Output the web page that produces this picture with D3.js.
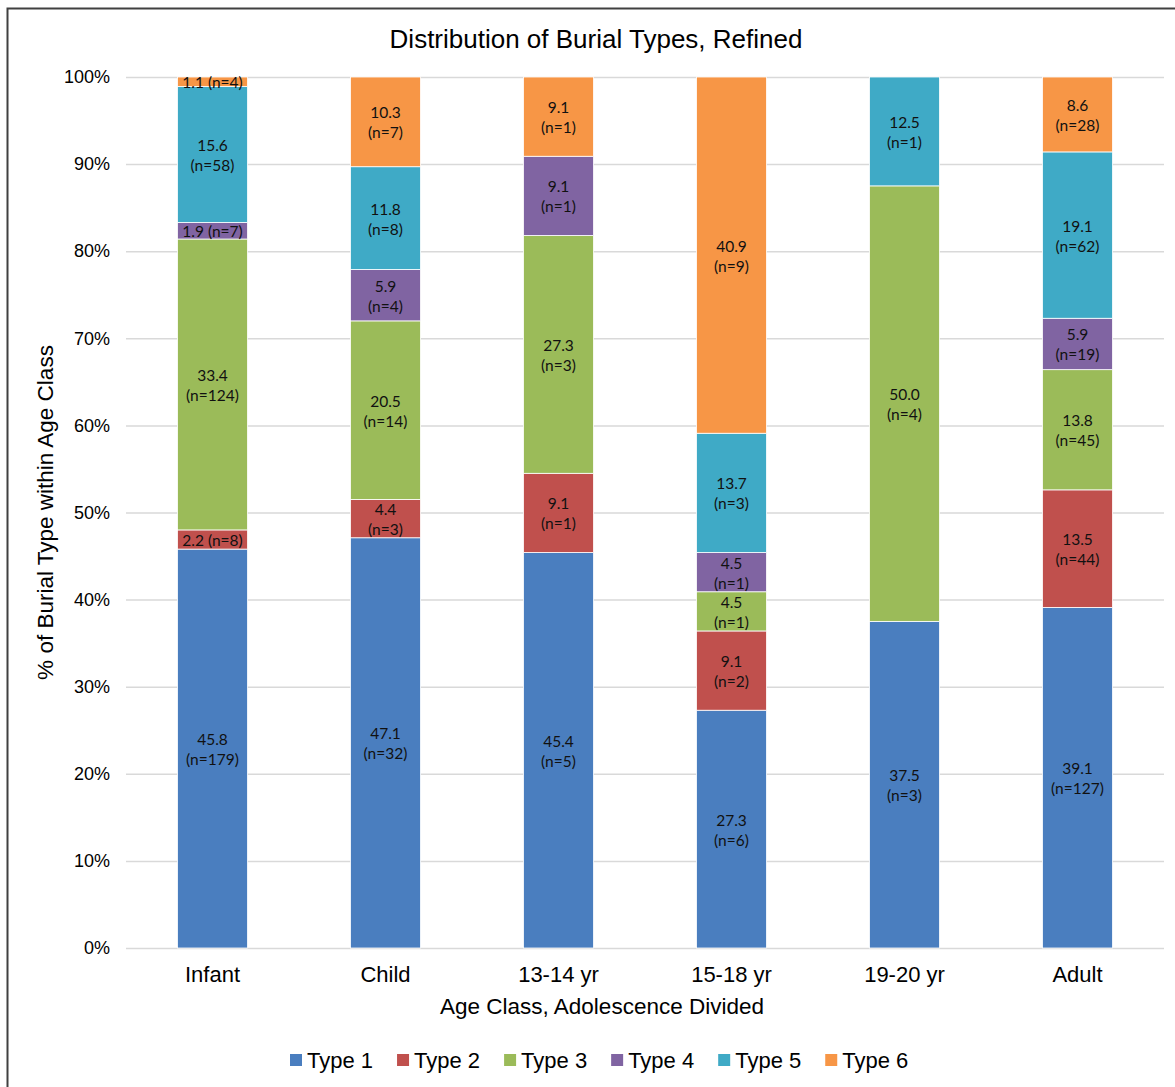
<!DOCTYPE html>
<html>
<head>
<meta charset="utf-8">
<script src="https://cdn.jsdelivr.net/npm/d3@7"></script>
<style>
  html, body { margin: 0; padding: 0; background: #fff; }
  svg { display: block; }
  .arial { font-family: "Liberation Sans", Arial, Helvetica, sans-serif; }
  .calib { font-family: Lato, "Noto Sans", sans-serif; }
</style>
</head>
<body>
<svg id="chart" width="1175" height="1087"></svg>
<script>
// Age classes along the x axis
const ageClasses = ["Infant", "Child", "13-14 yr", "15-18 yr", "19-20 yr", "Adult"];
// Burial types (stack order, bottom to top)
const burialTypes = ["Type 1", "Type 2", "Type 3", "Type 4", "Type 5", "Type 6"];
const typeColors = ["#4A7EBF", "#C0504D", "#9BBB59", "#8064A2", "#3FAAC6", "#F79646"];

// Percent of each burial type within an age class, one array per type
const type1Pct = [45.8, 47.1, 45.4, 27.3, 37.5, 39.1];
const type2Pct = [2.2, 4.4, 9.1, 9.1, 0, 13.5];
const type3Pct = [33.4, 20.5, 27.3, 4.5, 50.0, 13.8];
const type4Pct = [1.9, 5.9, 9.1, 4.5, 0, 5.9];
const type5Pct = [15.6, 11.8, 0, 13.7, 12.5, 19.1];
const type6Pct = [1.1, 10.3, 9.1, 40.9, 0, 8.6];

// Burial counts behind each percentage
const type1N = [179, 32, 5, 6, 3, 127];
const type2N = [8, 3, 1, 2, 0, 44];
const type3N = [124, 14, 3, 1, 4, 45];
const type4N = [7, 4, 1, 1, 0, 19];
const type5N = [58, 8, 0, 3, 1, 62];
const type6N = [4, 7, 1, 9, 0, 28];

const yTicks = [0, 10, 20, 30, 40, 50, 60, 70, 80, 90, 100];

const pctSeries = [type1Pct, type2Pct, type3Pct, type4Pct, type5Pct, type6Pct];
const nSeries = [type1N, type2N, type3N, type4N, type5N, type6N];

const rows = ageClasses.map((a, i) => {
  const r = { age: a };
  burialTypes.forEach((t, j) => { r[t] = pctSeries[j][i]; r[t + "_n"] = nSeries[j][i]; });
  return r;
});

const svg = d3.select("#chart");
const W = 1175, H = 1087;
const plot = { left: 126, right: 1164, top: 77, bottom: 948 };

// Outer frame
svg.append("rect")
  .attr("x", 7.5).attr("y", 8.5)
  .attr("width", W + 10).attr("height", H + 10)
  .attr("fill", "none").attr("stroke", "#404040").attr("stroke-width", 2);

const x = d3.scaleBand().domain(ageClasses).range([plot.left, plot.right]).paddingInner(0.595).paddingOuter(0.2975);
const y = d3.scaleLinear().domain([0, 100]).range([plot.bottom, plot.top]);

// Gridlines
svg.append("g").selectAll("line").data(yTicks).join("line")
  .attr("x1", plot.left).attr("x2", plot.right)
  .attr("y1", d => y(d) + 0.5).attr("y2", d => y(d) + 0.5)
  .attr("stroke", "#d9d9d9").attr("stroke-width", 1.5);

// Y axis tick labels
const yAxis = d3.axisLeft(y).tickValues(yTicks).tickFormat(d => d + "%").tickSize(0).tickPadding(0);
const yg = svg.append("g").attr("transform", `translate(${plot.left - 16},0)`).call(yAxis);
yg.select(".domain").remove();
yg.attr("font-family", null).attr("font-size", null);
yg.selectAll("text").attr("class", "arial")
  .style("font-size", "18px").attr("fill", "#000");

// X axis category labels
const xAxis = d3.axisBottom(x).tickSize(0).tickPadding(0);
const xg = svg.append("g").attr("transform", `translate(0,${plot.bottom + 18})`).call(xAxis);
xg.select(".domain").remove();
xg.attr("font-family", null).attr("font-size", null);
xg.selectAll("text").attr("class", "arial")
  .style("font-size", "22px").attr("fill", "#000");

// Stacked bars
const stack = d3.stack().keys(burialTypes);
const layers = stack(rows);

const layerG = svg.append("g").selectAll("g").data(layers).join("g")
  .attr("fill", (d, i) => typeColors[i]);

layerG.selectAll("rect").data(d => d.filter(s => s[1] - s[0] > 0)).join("rect")
  .attr("x", d => x(d.data.age))
  .attr("width", x.bandwidth())
  .attr("y", d => y(d[1]))
  .attr("height", d => y(d[0]) - y(d[1]))
  .attr("stroke", "#ffffff").attr("stroke-width", 0.8);

// Segment value labels
const labelG = svg.append("g").attr("class", "calib")
  .style("font-size", "15.5px").attr("fill", "#111").attr("text-anchor", "middle");

layers.forEach((layer, li) => {
  const key = burialTypes[li];
  layer.forEach(s => {
    const v = s.data[key];
    if (!(v > 0)) return;
    const n = s.data[key + "_n"];
    const cx = x(s.data.age) + x.bandwidth() / 2;
    const cy = (y(s[0]) + y(s[1])) / 2;
    const txt = v.toFixed(1);
    if (v < 3) {
      labelG.append("text").attr("x", cx).attr("y", cy + 1).attr("dy", "0.35em")
        .text(`${txt} (n=${n})`);
    } else {
      labelG.append("text").attr("x", cx).attr("y", cy - 9).attr("dy", "0.35em").text(txt);
      labelG.append("text").attr("x", cx).attr("y", cy + 11).attr("dy", "0.35em").text(`(n=${n})`);
    }
  });
});

// Titles
svg.append("text").attr("class", "arial")
  .attr("x", 596).attr("y", 48).attr("text-anchor", "middle")
  .style("font-size", "26px")
  .text("Distribution of Burial Types, Refined");

svg.append("text").attr("class", "arial")
  .attr("x", 602).attr("y", 1014).attr("text-anchor", "middle")
  .style("font-size", "22.5px")
  .text("Age Class, Adolescence Divided");

svg.append("text").attr("class", "arial")
  .attr("transform", `translate(53,${(plot.top + plot.bottom) / 2}) rotate(-90)`)
  .attr("text-anchor", "middle")
  .style("font-size", "22.5px")
  .text("% of Burial Type within Age Class");

// Legend
const legendItems = burialTypes.map((t, i) => ({ t, c: typeColors[i] }));
const legend = svg.append("g").attr("class", "arial").style("font-size", "22px");
let lx = 290;
legendItems.forEach(item => {
  const g = legend.append("g").attr("transform", `translate(${lx},1060)`);
  g.append("rect").attr("x", 0).attr("y", -6).attr("width", 12).attr("height", 12).attr("fill", item.c);
  const t = g.append("text").attr("x", 17).attr("y", 0).attr("dy", "0.35em").text(item.t);
  lx += 17 + t.node().getComputedTextLength() + 24;
});
</script>
</body>
</html>
